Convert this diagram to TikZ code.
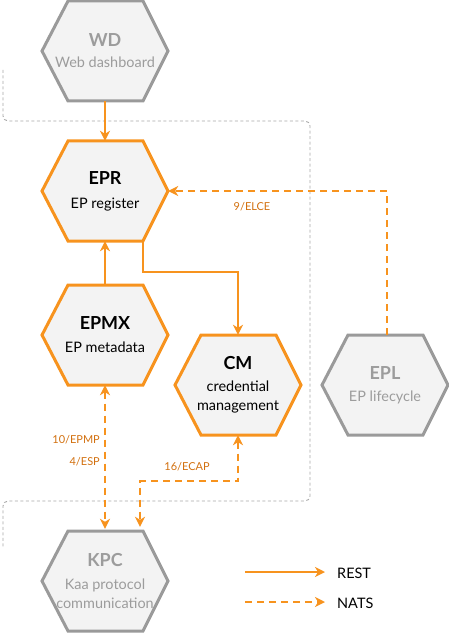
\documentclass[tikz,border=0pt]{standalone}
\usepackage{fontspec}
\setmainfont{Lato}
\usetikzlibrary{arrows.meta,calc}
\definecolor{hexorange}{HTML}{F7931E}
\definecolor{lblorange}{HTML}{D2700F}
\definecolor{hexgray}{HTML}{9A9A9A}
\definecolor{txtgray}{HTML}{9C9C9C}
\definecolor{hexfill}{HTML}{F3F3F3}
\definecolor{bndgray}{HTML}{A8A8A8}
\tikzset{
  hexlabel/.style={rectangle,minimum width=126bp,minimum height=100bp,align=center,inner sep=0pt,font=\fontsize{14.5}{19}\selectfont},
  hexline/.style={line width=3bp,fill=hexfill,line join=miter},
  orangehex/.style={draw=hexorange,text=black},
  grayhex/.style={draw=hexgray,text=txtgray},
  rest/.style={draw=hexorange,line width=2bp,-{Stealth[length=10bp,width=10bp,inset=3bp]}},
  nats/.style={draw=hexorange,line width=2bp,dash pattern=on 7bp off 5bp,-{Stealth[length=10bp,width=10bp,inset=3bp]}},
  natsboth/.style={nats,{Stealth[length=10bp,width=10bp,inset=3bp]}-{Stealth[length=10bp,width=10bp,inset=3bp]}},
  lbl/.style={text=lblorange,font=\fontsize{11}{13}\selectfont,inner sep=0pt},
  legendtext/.style={text=black,font=\fontsize{14.5}{17}\selectfont,anchor=west,inner sep=0pt},
  boundary/.style={draw=bndgray,line width=0.9bp,dash pattern=on 3bp off 2.5bp,rounded corners=5bp}
}
\newcommand\ttl[1]{{\fontsize{18}{19}\selectfont\bfseries #1}}
\newcommand\hexat[5]{%
  \draw[hexline,#4] (#2-63,#3) -- (#2-37,#3-50) -- (#2+38,#3-50) -- (#2+63,#3) -- (#2+38,#3+50) -- (#2-37,#3+50) -- cycle;
  \node[hexlabel,#4,draw=none] (#1) at (#2,#3) {#5};
}
\begin{document}
\begin{tikzpicture}[x=1bp,y=-1bp]
\useasboundingbox (0,0) rectangle (449,633);
% boundary
\draw[boundary] (3,70) |- (310,121) |- (3,501) -- (3,548);
% hexagons
\hexat{WD}{105}{51}{grayhex}{\ttl{WD}\\[2pt]Web dashboard}
\hexat{EPR}{105}{191}{orangehex}{\ttl{EPR}\\[5pt]EP register}
\hexat{EPMX}{105}{335}{orangehex}{\ttl{EPMX}\\[4pt]EP metadata}
\hexat{CM}{238}{385}{orangehex}{\ttl{CM}\\[3pt]credential\\management}
\hexat{EPL}{385}{385}{grayhex}{\ttl{EPL}\\[3pt]EP lifecycle}
\hexat{KPC}{105}{581}{grayhex}{\ttl{KPC}\\[4pt]Kaa protocol\\communication}
% REST connectors
\draw[rest] (WD.south) -- (EPR.north);
\draw[rest] (EPMX.north) -- (EPR.south);
\draw[rest] ($(EPR.south)+(38,0)$) -- ++(0,31) -| (CM.north);
% NATS connectors
\draw[nats] ($(EPL.north)+(2,0)$) |- (EPR.east);
\node[lbl] (l9) at (252,207) {9/ELCE};
\draw[natsboth] (EPMX.south) -- ($(KPC.north)+(0,-2)$);
\node[lbl,anchor=east] (l10) at (100,440) {10/EPMP};
\node[lbl,anchor=east] (l4) at (100,462) {4/ESP};
\draw[natsboth] (CM.south) -- ++(0,46) -| ($(KPC.north)+(35,-4)$);
\node[lbl] (l16) at (187,467) {16/ECAP};
% legend
\coordinate (r1) at (245,572);
\coordinate (r2) at (325,572);
\coordinate (n1) at (245,602);
\coordinate (n2) at (325,602);
\draw[rest] (r1) -- (r2);
\draw[nats] (n1) -- (n2);
\node[legendtext] (rest) at (337,573) {REST};
\node[legendtext] (natslbl) at (337,603) {NATS};
\end{tikzpicture}
\end{document}
